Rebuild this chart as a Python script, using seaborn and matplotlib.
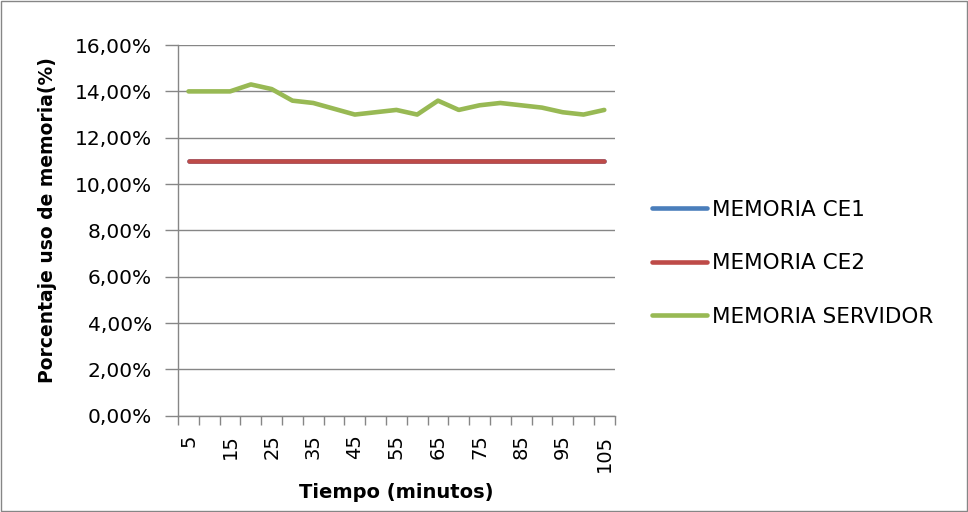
import matplotlib
matplotlib.use("Agg")
import matplotlib.pyplot as plt
from matplotlib.ticker import FixedLocator, FuncFormatter
from matplotlib.patches import Rectangle
import seaborn as sns
import pandas as pd

tiempo = [5, 10, 15, 20, 25, 30, 35, 40, 45, 50, 55, 60, 65, 70, 75, 80, 85, 90, 95, 100, 105]
memoria_ce1 = [11.0] * 21
memoria_ce2 = [11.0] * 21
memoria_servidor = [14.0, 14.0, 14.0, 14.3, 14.1, 13.6, 13.5, 13.25, 13.0, 13.1, 13.2,
                    13.0, 13.6, 13.2, 13.4, 13.5, 13.4, 13.3, 13.1, 13.0, 13.2]
series_names = ["MEMORIA CE1", "MEMORIA CE2", "MEMORIA SERVIDOR"]
colors = ["#4A7EBB", "#BE4B48", "#98B954"]
tick_labels = [5, 15, 25, 35, 45, 55, 65, 75, 85, 95, 105]

df = pd.DataFrame({
    "Tiempo": tiempo * 3,
    "Valor": memoria_ce1 + memoria_ce2 + memoria_servidor,
    "Serie": [series_names[0]] * 21 + [series_names[1]] * 21 + [series_names[2]] * 21,
})

sns.set_theme(style="white")
plt.rcParams["font.family"] = ["DejaVu Sans"]
plt.rcParams["text.color"] = "black"
plt.rcParams["axes.labelcolor"] = "black"
plt.rcParams["xtick.labelcolor"] = "black"
plt.rcParams["ytick.labelcolor"] = "black"

fig = plt.figure(figsize=(9.68, 5.12), dpi=100)
ax = fig.add_axes([0.184, 0.188, 0.451, 0.724])

sns.lineplot(data=df, x="Tiempo", y="Valor", hue="Serie", hue_order=series_names,
             palette=colors, linewidth=3.3, ax=ax, legend=False, solid_capstyle="round")

ax.set_xlim(2.5, 107.5)
ax.set_ylim(0, 16)
ax.set_yticks([0, 2, 4, 6, 8, 10, 12, 14, 16])
ax.yaxis.set_major_formatter(FuncFormatter(lambda v, p: f"{v:.2f}".replace(".", ",") + "%"))
ax.yaxis.grid(True, color="#868686", linewidth=1.0)
ax.set_axisbelow(True)

ax.xaxis.set_major_locator(FixedLocator(tick_labels))
ax.set_xticklabels([str(t) for t in tick_labels], rotation=90)
ax.xaxis.set_minor_locator(FixedLocator([2.5 + 5 * k for k in range(22)]))
ax.tick_params(axis="x", which="major", length=0, labelsize=14, pad=13.5)
ax.tick_params(axis="x", which="minor", length=6.5, width=1, color="#868686", direction="out", bottom=True)
ax.tick_params(axis="y", which="major", length=9.4, width=1, color="#868686", direction="out", left=True, labelsize=14.5, pad=9.4)

for s in ["top", "right"]:
    ax.spines[s].set_visible(False)
for s in ["left", "bottom"]:
    ax.spines[s].set_color("#868686")
    ax.spines[s].set_linewidth(1.0)

ax.set_xlabel("Tiempo (minutos)", fontsize=14, fontweight="bold", labelpad=8)
ax.set_ylabel("Porcentaje uso de memoria(%)", fontsize=13.5, fontweight="bold", labelpad=6)
ax.yaxis.set_label_coords(-0.277, 0.528)

handles = [plt.Line2D([0], [0], color=c, linewidth=3.3, solid_capstyle="round") for c in colors]
fig.legend(handles, series_names, loc="center left", bbox_to_anchor=(0.6736, 0.486),
           frameon=False, fontsize=15.5, handlelength=2.55, handletextpad=0.23,
           labelspacing=1.55, borderaxespad=0, borderpad=0)

fig.patches.append(Rectangle((0.001, 0.001), 0.998, 0.997, transform=fig.transFigure,
                             fill=False, edgecolor="#868686", linewidth=1.0))

fig.savefig("out.png", dpi=100)
